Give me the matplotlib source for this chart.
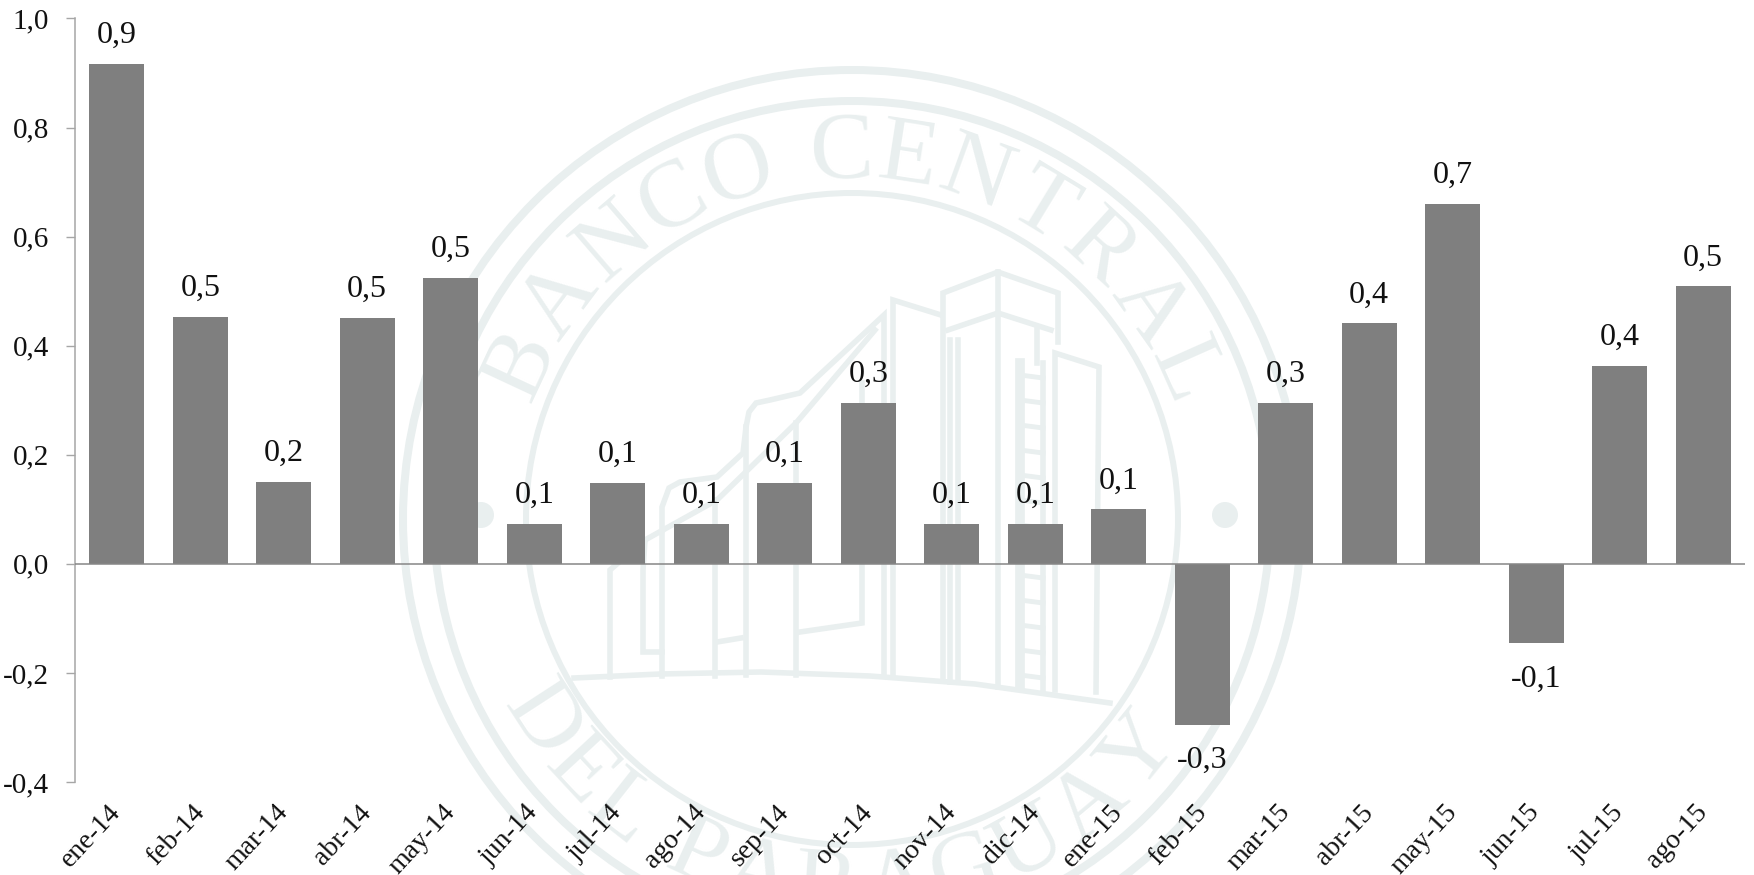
import numpy as np
import matplotlib
matplotlib.use('Agg')
import matplotlib.pyplot as plt
from matplotlib.patches import Circle
from matplotlib.font_manager import FontProperties
from matplotlib.textpath import TextPath
from matplotlib.transforms import ScaledTranslation

# datos
meses = ['ene-14', 'feb-14', 'mar-14', 'abr-14', 'may-14', 'jun-14', 'jul-14', 'ago-14', 'sep-14', 'oct-14',
         'nov-14', 'dic-14', 'ene-15', 'feb-15', 'mar-15', 'abr-15', 'may-15', 'jun-15', 'jul-15', 'ago-15']
valores = [0.917, 0.453, 0.150, 0.451, 0.525, 0.074, 0.148, 0.074, 0.148, 0.295,
           0.074, 0.074, 0.100, -0.295, 0.295, 0.441, 0.660, -0.146, 0.363, 0.509]
etiquetas = ['0,9', '0,5', '0,2', '0,5', '0,5', '0,1', '0,1', '0,1', '0,1', '0,3',
             '0,1', '0,1', '0,1', '-0,3', '0,3', '0,4', '0,7', '-0,1', '0,4', '0,5']
yticks = [-0.4, -0.2, 0.0, 0.2, 0.4, 0.6, 0.8, 1.0]
yticklabels = ['-0,4', '-0,2', '0,0', '0,2', '0,4', '0,6', '0,8', '1,0']

W, H = 1754, 875
SELLO = '#e9efef'
FUENTE = 'Liberation Serif'
plt.rcParams['font.family'] = [FUENTE, 'DejaVu Serif']

fig = plt.figure(figsize=(W / 100, H / 100), dpi=100, facecolor='white')

# sello de fondo, en pixeles de la imagen
sello = fig.add_axes([0, 0, 1, 1], zorder=0)
sello.set_xlim(0, W)
sello.set_ylim(H, 0)
sello.axis('off')

cx, cy = 852, 519
for r, grosor in [(449, 8), (418, 8), (326, 6)]:
    sello.add_patch(Circle((cx, cy), r, fill=False, ec=SELLO, lw=grosor * 0.72))
for px in [481, 1225]:
    sello.add_patch(Circle((px, 515), 13, fc=SELLO, ec='none'))


def texto_arco(texto, ini, fin, radio, abajo=False, size=69):
    prop = FontProperties(family=FUENTE, size=size)
    anchos = [TextPath((0, 0), c, prop=prop).get_extents().width if c != ' ' else size * 0.22 for c in texto]
    gap = size * 0.14
    pos = np.cumsum([0] + [(anchos[i] + anchos[i + 1]) / 2 + gap for i in range(len(texto) - 1)])
    angulos = ini + (fin - ini) * pos / pos[-1]
    for c, a in zip(texto, angulos):
        if c == ' ':
            continue
        t = np.radians(a)
        if abajo:
            x, y = cx + radio * np.sin(t), cy + radio * np.cos(t)
            rot = a
        else:
            x, y = cx + radio * np.sin(t), cy - radio * np.cos(t)
            rot = -a
        sello.text(x, y, c, color=SELLO, fontsize=size, rotation=rot, ha='center', va='center',
                   rotation_mode='anchor', clip_on=True)


texto_arco('BANCO CENTRAL', -65, 66, 364)
texto_arco('DEL PARAGUAY', -57, 51, 372, abajo=True)

# edificio
trazos = [
    [(574, 678), (660, 674), (761, 672), (870, 676), (975, 684), (1110, 703)],
    [(943, 680), (943, 293), (998, 272), (1058, 293), (1058, 342)],
    [(998, 272), (998, 687)],
    [(948, 330), (998, 313), (1051, 330)],
    [(1037, 330), (1037, 363)],
    [(893, 676), (893, 300), (941, 315)],
    [(884, 676), (884, 315), (800, 393), (770, 400), (756, 403), (749, 412), (746, 427), (743, 453), (717, 477), (680, 482), (669, 488), (662, 507), (662, 676)],
    [(875, 330), (796, 423), (717, 500), (645, 540), (610, 570), (610, 677)],
    [(645, 540), (643, 570), (643, 652), (662, 652)],
    [(717, 642), (741, 638)],
    [(715, 500), (715, 676)],
    [(746, 427), (746, 675)],
    [(796, 423), (796, 675)],
    [(800, 632), (862, 623), (862, 383)],
    [(950, 340), (950, 682)],
    [(958, 340), (958, 682)],
    [(1055, 690), (1055, 353), (1099, 367), (1096, 692)],
    [(1043, 363), (1043, 690)],
]
for tr in trazos:
    xs, ys = zip(*tr)
    sello.plot(xs, ys, color=SELLO, lw=4.0, solid_joinstyle='miter')
sello.plot([1020, 1020], [363, 686], color=SELLO, lw=7)
for yv in range(375, 680, 25):
    sello.plot([1020, 1043], [yv, yv + 3], color=SELLO, lw=3.5)

# grafico
ax = fig.add_axes([75 / W, 1 - 782 / H, (1745 - 75) / W, (782 - 18.5) / H], zorder=1)
ax.patch.set_alpha(0)
x = np.arange(len(meses))
ax.bar(x, valores, width=0.66, color='#7f7f7f', zorder=2)
ax.axhline(0, color='#868686', lw=1.1, zorder=3)

for xi, v, e in zip(x, valores, etiquetas):
    off = 15 if v >= 0 else -31
    ax.annotate(e, (xi, v), xytext=(0, off), textcoords='offset points', ha='center', va='baseline',
                fontsize=23, color='#111111')

ax.set_xlim(-0.5, 19.5)
ax.set_ylim(-0.4, 1.0)
ax.set_yticks(yticks)
ax.set_yticklabels(yticklabels, fontsize=21, color='#111111')
ax.set_xticks(x)
ax.set_xticklabels(meses, fontsize=20, rotation=47, ha='right', rotation_mode='anchor', color='#111111')
ax.tick_params(axis='y', length=6.5, width=1, color='#a6a6a6', pad=12)
ax.tick_params(axis='x', length=0, pad=13)
desp = ScaledTranslation(-9 / 100, 0, fig.dpi_scale_trans)
for lab in ax.get_xticklabels():
    lab.set_transform(lab.get_transform() + desp)
for s in ['top', 'right', 'bottom']:
    ax.spines[s].set_visible(False)
ax.spines['left'].set_color('#a6a6a6')
ax.spines['left'].set_linewidth(1.1)

fig.savefig('out.png', dpi=100, facecolor='white')
